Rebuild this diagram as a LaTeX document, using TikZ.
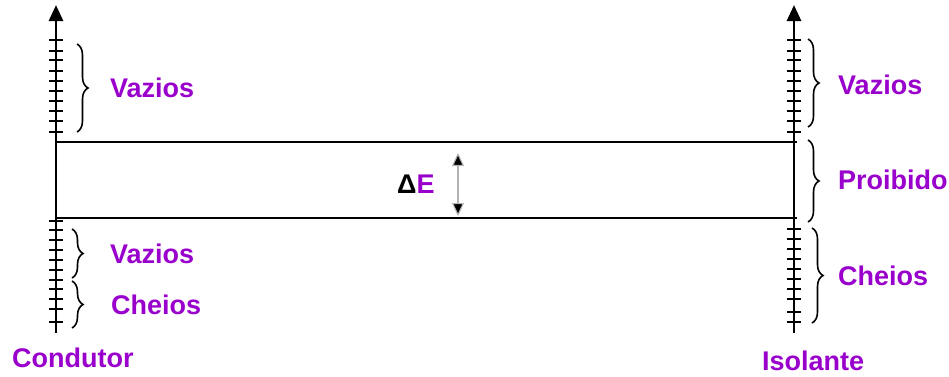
\documentclass[tikz,border=0pt]{standalone}
\usepackage{fontspec}
\setmainfont{Liberation Sans}
\usepackage{xcolor}
\usetikzlibrary{arrows.meta,decorations.pathreplacing,positioning}
\definecolor{band}{HTML}{9900CC}
\definecolor{gapline}{HTML}{B4B4B4}

\begin{document}
\begin{tikzpicture}[
  x=1pt, y=-1pt,
  axis/.style={line width=2.8pt, -{Triangle[width=14pt,length=16pt]}},
  level/.style={line width=2.8pt},
  tick/.style={line width=2.6pt},
  brc/.style={decorate, decoration={brace, amplitude=11pt}, line width=1.6pt},
  lbl/.style={text=band, font=\fontsize{27}{30}\selectfont\bfseries, inner sep=0pt, anchor=west},
  gaparr/.style={{Triangle[width=12pt,length=13pt,fill=black]}-{Triangle[width=12pt,length=13pt,fill=black]}, draw=gapline, line width=1.1pt}
]
\useasboundingbox (0,0) rectangle (949,376);

% axes of the two materials
\coordinate (cbot) at (56,333);  \coordinate (ctop) at (56,5);
\coordinate (ibot) at (794,333); \coordinate (itop) at (794,5);
\draw[axis] (cbot) -- (ctop);
\draw[axis] (ibot) -- (itop);

% band edges
\coordinate (hiL) at (56,142); \coordinate (hiR) at (797,142);
\coordinate (loL) at (56,218); \coordinate (loR) at (797,218);
\draw[level] (hiL) -- (hiR);
\draw[level] (loL) -- (loR);

% levels
\foreach \y in {40,51,60,71,81,91,101,111,121,132} {
  \draw[tick] (49,\y) -- (63,\y);
  \draw[tick] (787,\y) -- (801,\y);
}
\foreach \y in {221,230,240,250,260,270,280,289,299,309,322}
  \draw[tick] (49,\y) -- (63,\y);
\foreach \y in {229,239,249,259,269,279,289,299,312,322}
  \draw[tick] (787,\y) -- (801,\y);

% braces
\draw[brc] (77,44) -- (77,132);
\draw[brc] (72,229) -- (72,278);
\draw[brc] (72,281) -- (72,328);
\draw[brc] (808,39) -- (808,127);
\draw[brc] (808,140) -- (808,222);
\draw[brc] (812,228) -- (812,323);

% labels
\node[lbl] (vazC) at (110,88) {Vazios};
\node[lbl] (vazC2) at (110,254) {Vazios};
\node[lbl] (cheC) at (111,305) {Cheios};
\node[lbl] (vazI) at (838,85) {Vazios};
\node[lbl] (proI) at (838,180) {Proibido};
\node[lbl] (cheI) at (838,276) {Cheios};
\node[lbl] (cond) at (12,358) {Condutor};
\node[lbl] (isol) at (762,361) {Isolante};

% energy gap
\node[lbl] (gap) at (397,184) {\textcolor{black}{Δ}E};
\coordinate (gtop) at (458,153);
\coordinate (gbot) at (458,216);
\draw[gaparr] (gtop) -- (gbot);
\end{tikzpicture}
\end{document}
